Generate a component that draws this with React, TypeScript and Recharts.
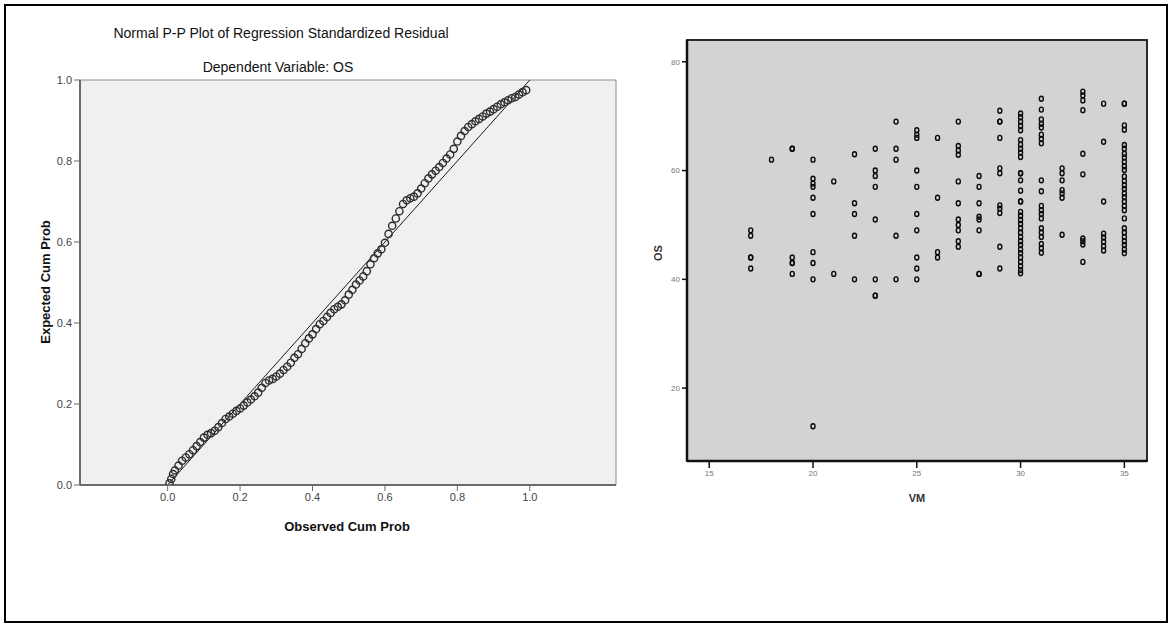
import React from 'react';
import {
  ScatterChart,
  Scatter,
  XAxis,
  YAxis,
  ReferenceLine,
  ReferenceArea,
} from 'recharts';

// ---- Normal P-P plot: observed vs expected cumulative probability ----
const observedCumProb = [
  0.005, 0.01, 0.015, 0.02, 0.03, 0.04, 0.05, 0.06, 0.07, 0.08, 0.09,
  0.1, 0.11, 0.12, 0.13, 0.14, 0.15, 0.16, 0.17, 0.18, 0.19,
  0.2, 0.21, 0.22, 0.23, 0.24, 0.25, 0.26, 0.27, 0.28, 0.29,
  0.3, 0.31, 0.32, 0.33, 0.34, 0.35, 0.36, 0.37, 0.38, 0.39,
  0.4, 0.41, 0.42, 0.43, 0.44, 0.45, 0.46, 0.47, 0.48, 0.49,
  0.5, 0.51, 0.52, 0.53, 0.54, 0.55, 0.56, 0.57, 0.58, 0.59,
  0.6, 0.61, 0.62, 0.63, 0.64, 0.65, 0.66, 0.67, 0.68, 0.69,
  0.7, 0.71, 0.72, 0.73, 0.74, 0.75, 0.76, 0.77, 0.78, 0.79,
  0.8, 0.81, 0.82, 0.83, 0.84, 0.85, 0.86, 0.87, 0.88, 0.89,
  0.9, 0.91, 0.92, 0.93, 0.94, 0.95, 0.96, 0.97, 0.98, 0.99,
];
const expectedCumProb = [
  0.004, 0.015, 0.027, 0.036, 0.048, 0.06, 0.068, 0.076, 0.086, 0.096, 0.106,
  0.117, 0.124, 0.128, 0.134, 0.143, 0.153, 0.163, 0.169, 0.176, 0.183,
  0.189, 0.196, 0.204, 0.211, 0.219, 0.228, 0.24, 0.252, 0.258, 0.262,
  0.268, 0.275, 0.284, 0.292, 0.302, 0.314, 0.323, 0.336, 0.35, 0.362,
  0.372, 0.385, 0.397, 0.405, 0.415, 0.425, 0.434, 0.44, 0.446, 0.456,
  0.47, 0.482, 0.495, 0.505, 0.515, 0.528, 0.545, 0.56, 0.572, 0.582,
  0.598, 0.62, 0.64, 0.658, 0.676, 0.694, 0.703, 0.708, 0.712, 0.72,
  0.732, 0.745, 0.757, 0.767, 0.776, 0.785, 0.795, 0.806, 0.816, 0.83,
  0.848, 0.862, 0.874, 0.884, 0.891, 0.898, 0.904, 0.91, 0.917, 0.922,
  0.928, 0.934, 0.94, 0.945, 0.95, 0.955, 0.958, 0.964, 0.97, 0.975,
];
const probTicks = [0, 0.2, 0.4, 0.6, 0.8, 1.0];

// ---- Scatter of OS against VM ----
const vmLevels = [17, 18, 19, 20, 21, 22, 23, 24, 25, 26, 27, 28, 29, 30, 31, 32, 33, 34, 35];
const osByVm: number[][] = [
  [49, 48, 44, 44, 42],
  [62],
  [64, 64, 44, 43, 43, 41],
  [62, 58.5, 57.6, 57, 55, 52, 45, 43, 40, 13],
  [58, 41],
  [63, 54, 52, 48, 40],
  [64, 60, 59, 57, 51, 40, 37, 37],
  [69, 64, 62, 48, 40],
  [67.4, 66.6, 66, 60, 57, 52, 49, 44, 42, 40],
  [66, 55, 45, 44],
  [69, 64.5, 63.7, 62.9, 58, 54, 51, 50, 49, 47, 46],
  [59, 57, 54, 51.5, 51, 49, 41, 41],
  [71, 69, 69, 66, 60.4, 59.5, 53.6, 53, 52.2, 46, 42],
  [70.5, 69.8, 69, 68.2, 67.4, 65.6, 64.8, 64, 63.3, 62.5, 59.5, 59.5, 58.2, 56.3, 54.3, 54.3,
    52.4, 51.7, 50.9, 50.2, 49.4, 48.6, 47.8, 47, 46.3, 45.5, 44.8, 44, 43.2, 42.4, 41.7, 41.1],
  [73.2, 71.2, 69.4, 68.6, 67.9, 66.6, 65.8, 65, 58.2, 56.2, 53.5, 52.7, 52, 51.2, 49.4, 48.6,
    47.8, 46.5, 45.7, 44.9],
  [60.4, 59.5, 58.2, 56.4, 55.8, 55, 48.2],
  [74.5, 73.8, 72.9, 71.1, 63.1, 59.3, 47.5, 47, 46.4, 43.2],
  [72.3, 65.3, 54.3, 48.4, 47.7, 46.9, 46.1, 45.3],
  [72.3, 72.3, 68.3, 67.5, 64.7, 64, 63.1, 62.4, 61.6, 60.8, 60.1, 58.9, 58.1, 57.3, 56.6, 55.8,
    55.1, 54.3, 53.5, 52.7, 51.2, 49.4, 48.6, 47.8, 47, 46.3, 45.5, 44.8],
];
const vmTicks = [15, 20, 25, 30, 35];
const osTicks = [20, 40, 60, 80];

const ppData = observedCumProb.map((x, i) => ({ x, y: expectedCumProb[i] }));
const vmOsData = vmLevels.flatMap((vm, i) => osByVm[i].map((os) => ({ vm, os })));

const FONT = 'Arial, "Liberation Sans", sans-serif';
const PP_X_DOMAIN: [number, number] = [-0.242, 1.238];
const VM_DOMAIN: [number, number] = [13.93, 36.09];
const OS_DOMAIN: [number, number] = [6.6, 84];

const PPRing = (props: any) => (
  <circle cx={props.cx} cy={props.cy} r={3.6} fill="none" stroke="#2e2e2e" strokeWidth={1.4} />
);

const SmallRing = (props: any) => (
  <ellipse cx={props.cx} cy={props.cy} rx={2} ry={2.5} fill="none" stroke="#0a0a0a" strokeWidth={1.4} />
);

function PPPlot() {
  return (
    <ScatterChart width={640} height={560} margin={{ top: 80, right: 24, bottom: 45, left: 40 }}>
      <ReferenceArea
        x1={PP_X_DOMAIN[0]}
        x2={PP_X_DOMAIN[1]}
        y1={0}
        y2={1}
        fill="#f0f0f0"
        fillOpacity={1}
        stroke="#8c8c8c"
        strokeWidth={1}
        ifOverflow="visible"
      />
      <XAxis
        type="number"
        dataKey="x"
        domain={PP_X_DOMAIN}
        ticks={probTicks}
        allowDataOverflow
        height={30}
        tickSize={6}
        tickFormatter={(v: number) => v.toFixed(1)}
        axisLine={{ stroke: '#6a6a6a', strokeWidth: 2 }}
        tickLine={{ stroke: '#6a6a6a', strokeWidth: 1 }}
        tick={{ fontSize: 11, fill: '#444', fontFamily: FONT }}
      />
      <YAxis
        type="number"
        dataKey="y"
        domain={[0, 1]}
        ticks={probTicks}
        allowDataOverflow
        width={40}
        tickSize={6}
        tickFormatter={(v: number) => v.toFixed(1)}
        axisLine={{ stroke: '#6a6a6a', strokeWidth: 2 }}
        tickLine={{ stroke: '#6a6a6a', strokeWidth: 1 }}
        tick={{ fontSize: 11, fill: '#444', fontFamily: FONT }}
      />
      <ReferenceLine
        segment={[{ x: 0, y: 0 }, { x: 1, y: 1 }]}
        stroke="#1a1a1a"
        strokeWidth={1}
        ifOverflow="visible"
      />
      <Scatter data={ppData} shape={PPRing} isAnimationActive={false} />
    </ScatterChart>
  );
}

function VmOsPlot() {
  return (
    <ScatterChart width={571} height={560} margin={{ top: 40, right: 24, bottom: 69, left: 47 }}>
      <ReferenceArea
        x1={VM_DOMAIN[0]}
        x2={VM_DOMAIN[1]}
        y1={OS_DOMAIN[0]}
        y2={OS_DOMAIN[1]}
        fill="#d3d3d3"
        fillOpacity={1}
        stroke="#2a2a2a"
        strokeWidth={2}
        ifOverflow="visible"
      />
      <XAxis
        type="number"
        dataKey="vm"
        domain={VM_DOMAIN}
        ticks={vmTicks}
        allowDataOverflow
        height={30}
        tickSize={7}
        axisLine={{ stroke: '#111', strokeWidth: 2.5 }}
        tickLine={{ stroke: '#111', strokeWidth: 1.5 }}
        tick={{ fontSize: 8, fill: '#777', fontFamily: FONT }}
      />
      <YAxis
        type="number"
        dataKey="os"
        domain={OS_DOMAIN}
        ticks={osTicks}
        allowDataOverflow
        width={40}
        tickSize={5}
        axisLine={{ stroke: '#111', strokeWidth: 2.5 }}
        tickLine={{ stroke: '#111', strokeWidth: 1.5 }}
        tick={{ fontSize: 8, fill: '#777', fontFamily: FONT }}
      />
      <Scatter data={vmOsData} shape={SmallRing} isAnimationActive={false} />
    </ScatterChart>
  );
}

export default function App() {
  return (
    <div
      style={{
        position: 'absolute',
        left: 0,
        top: 0,
        width: 1171,
        height: 623,
        background: '#fff',
        overflow: 'hidden',
        fontFamily: FONT,
      }}
    >
      <div
        style={{
          position: 'absolute',
          left: 4,
          top: 4,
          width: 1164,
          height: 619,
          boxSizing: 'border-box',
          border: '2px solid #000',
        }}
      />
      <div style={{ position: 'absolute', left: 0, top: 0 }}>
        <PPPlot />
      </div>
      <div style={{ position: 'absolute', left: 600, top: 0 }}>
        <VmOsPlot />
      </div>
      <svg
        width={1171}
        height={623}
        style={{ position: 'absolute', left: 0, top: 0, pointerEvents: 'none' }}
      >
        <g fontFamily={FONT} fill="#111">
          <text x={281} y={37.5} fontSize={14} textAnchor="middle">
            Normal P-P Plot of Regression Standardized Residual
          </text>
          <text x={278} y={71.5} fontSize={14} textAnchor="middle">
            Dependent Variable: OS
          </text>
          <text
            x={45}
            y={282}
            fontSize={13}
            fontWeight="bold"
            textAnchor="middle"
            dominantBaseline="central"
            transform="rotate(-90 45 282)"
          >
            Expected Cum Prob
          </text>
          <text x={347} y={526} fontSize={13} fontWeight="bold" textAnchor="middle" dominantBaseline="central">
            Observed Cum Prob
          </text>
          <text
            x={658}
            y={253}
            fontSize={11}
            fontWeight="bold"
            fill="#333"
            textAnchor="middle"
            dominantBaseline="central"
            transform="rotate(-90 658 253)"
          >
            OS
          </text>
          <text x={917} y={498} fontSize={11} fontWeight="bold" fill="#333" textAnchor="middle" dominantBaseline="central">
            VM
          </text>
        </g>
      </svg>
    </div>
  );
}
